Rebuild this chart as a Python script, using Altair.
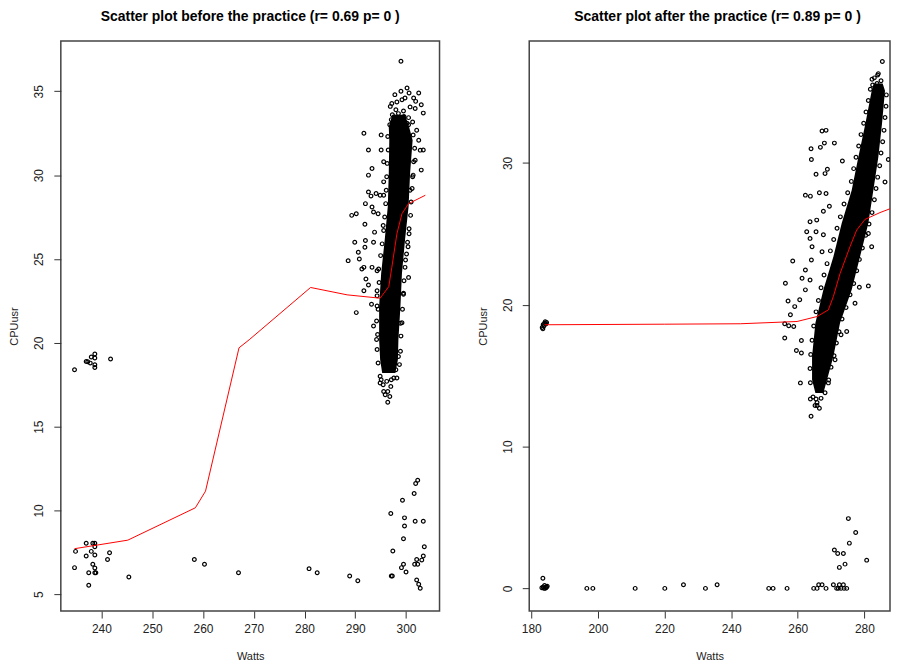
import altair as alt
import pandas as pd

FONT = "Liberation Sans"

# ---------------- Left panel: before the practice ----------------
L_title = "Scatter plot before the practice (r= 0.69 p= 0 )"
L_xticks = [240, 250, 260, 270, 280, 290, 300]
L_yticks = [5, 10, 15, 20, 25, 30, 35]

L_W = [234.7, 237.0, 237.3, 238.0, 238.7, 238.7, 237.8, 238.7, 238.7, 241.8,
       237.0, 238.3, 238.7, 238.7, 234.9, 238.0, 241.6, 237.0, 238.7, 241.2,
       234.7, 238.3, 238.7, 237.5, 238.7, 238.9, 237.5, 245.4, 258.3, 260.3,
       267.0, 280.9, 282.5, 288.9, 290.5, 297.1, 297.3,
       302.3, 301.9, 301.6, 299.3, 297.0, 299.7, 301.8, 303.4, 299.7, 299.5,
       303.6, 297.4, 303.4, 302.1, 303.1, 301.7, 302.3, 299.5, 299.1, 300.0,
       302.1, 302.5, 302.8,
       299.0, 300.2, 302.5, 301.5, 303.0, 303.4, 291.7, 295.1, 292.6, 295.1,
       303.4, 295.6, 293.3, 292.6, 303.0, 295.6, 292.6, 293.1, 294.1, 294.9,
       295.6, 292.0, 293.3, 293.6, 294.5, 290.2, 291.9, 295.5, 293.8, 300.6,
       292.0, 289.9, 293.6, 291.9, 290.6, 290.8, 288.6, 291.7, 291.3, 293.3,
       294.3, 300.5, 292.1, 292.6, 291.7, 294.3, 293.2, 290.2, 294.3, 293.6,
       294.2, 294.9, 295.6, 296.4, 296.4, 295.1, 297.1, 289.3,
       297.2, 298.2, 299.2, 299.8, 300.8, 301.8, 299.5, 298.5, 297.7, 297.1,
       300.5, 301.3, 302.1, 302.5, 302.8, 301.8, 301.3, 300.8, 300.4, 299.9,
       299.5, 298.9, 298.5, 298.0,
       # points along the edges of the dense cloud
       294.9, 294.5, 294.3, 294.4, 294.2, 294.5, 294.3, 294.7, 294.6, 295.0,
       295.3, 295.6, 295.8, 296.0, 296.1, 296.2, 296.3, 296.5, 296.4, 296.8,
       298.2, 298.7, 298.9, 299.0, 299.2, 299.3, 299.5, 299.6, 299.8, 300.1,
       300.3, 300.6, 300.9, 301.0, 301.2, 301.4, 301.5, 301.7, 301.4, 300.5,
       297.3, 298.0, 298.8, 299.6, 300.2, 297.8, 299.0, 300.6, 301.9, 296.9,
       295.5, 296.2, 297.0, 297.6, 295.9, 296.8]
L_C = [18.39, 18.89, 18.87, 19.15, 19.33, 19.09, 18.79, 18.69, 18.53, 19.03,
       8.04, 8.04, 8.04, 7.84, 7.56, 7.56, 7.48, 7.28, 7.34, 7.08,
       6.59, 6.79, 6.57, 6.29, 6.29, 6.29, 5.54, 6.03, 7.08, 6.79,
       6.29, 6.53, 6.29, 6.09, 5.81, 6.09, 6.09,
       11.80, 11.61, 11.01, 10.61, 9.82, 9.56, 9.36, 9.36, 9.07, 8.31,
       7.84, 7.58, 7.28, 7.08, 7.04, 6.79, 6.79, 6.79, 6.59, 6.33,
       5.85, 5.60, 5.36,
       36.79, 35.2, 34.9, 34.6, 34.2, 33.7, 32.5, 32.4, 31.5, 31.5,
       31.5, 30.8, 30.4, 30.0, 30.3, 29.6, 29.0, 28.75, 28.9, 28.8,
       28.8, 28.3, 28.1, 27.8, 27.7, 27.7, 27.07, 27.0, 26.6, 26.5,
       26.1, 26.0, 26.0, 25.7, 25.4, 25.0, 24.9, 24.5, 24.4, 24.5,
       24.3, 23.9, 23.8, 23.45, 23.1, 23.1, 22.3, 21.8, 22.2, 21.0,
       20.2, 17.6, 17.1, 17.1, 16.45, 17.8, 17.8, 27.6,
       34.27, 34.36, 34.5, 34.6, 34.07, 33.97, 33.83, 33.67, 33.47, 33.31,
       33.43, 33.17, 32.68, 32.08, 31.49, 30.89, 29.9, 29.1, 25.73, 24.94,
       22.96, 21.17, 19.18, 18.39,
       18.0, 18.8, 19.6, 20.5, 21.3, 22.0, 22.8, 23.6, 24.4, 25.2,
       25.9, 26.7, 27.5, 28.3, 29.1, 29.9, 30.7, 31.5, 32.3, 33.0,
       17.9, 18.7, 19.5, 20.4, 21.2, 22.0, 22.9, 23.7, 24.5, 25.3,
       26.0, 26.8, 27.6, 28.4, 29.2, 30.0, 30.8, 31.6, 32.4, 33.0,
       33.6, 33.9, 33.3, 33.5, 33.1, 34.8, 35.0, 34.9, 34.4, 34.1,
       17.5, 17.7, 17.4, 17.9, 16.9, 16.8]

# dense core of the point cloud (left / right edge at each CPUusr level)
L_core_C = [18.20, 18.99, 20.18, 22.16, 24.15, 26.13, 28.11, 30.10, 32.08, 32.88, 33.6]
L_core_lo = [295.3, 294.9, 294.7, 294.7, 295.1, 295.8, 296.4, 296.6, 296.7, 296.6, 297.3]
L_core_hi = [297.9, 298.4, 298.5, 298.9, 299.2, 299.8, 300.5, 300.8, 301.3, 300.6, 299.8]

# smoothed fit
L_fit_W = [234.7, 245.2, 258.5, 260.5, 267.1, 269.1, 281.2, 288.4, 294.9, 296.6,
           297.2, 298.2, 299.2, 300.5, 303.8]
L_fit_C = [7.72, 8.23, 10.16, 11.15, 19.7, 20.18, 23.3, 22.86, 22.66, 23.35,
           24.5, 26.5, 27.7, 28.3, 28.8]

# ---------------- Right panel: after the practice ----------------
R_title = "Scatter plot after the practice (r= 0.89 p= 0 )"
R_xticks = [180, 200, 220, 240, 260, 280]
R_yticks = [0, 10, 20, 30]

R_W = [183.3, 183.6, 184.0, 184.2, 183.8, 184.4, 183.5, 184.6,
       183.2, 183.6, 184.0, 184.4, 184.8, 183.8, 184.2, 184.6, 183.5,
       196.7, 198.5, 211.2, 220.1, 225.7, 232.3, 235.8, 251.3, 252.6, 256.8,
       264.8, 265.8, 266.3, 267.3, 268.5, 270.7, 271.7, 272.5, 273.7, 272.2,
       273.0, 273.9, 274.7, 272.5, 274.2, 280.7, 275.2, 277.4, 275.5, 271.0,
       272.0, 273.7,
       285.4, 284.2, 282.5, 267.3, 268.5, 271.0, 264.0, 266.8, 268.0, 264.1,
       273.4, 268.9, 265.5, 268.2, 287.2, 288.5, 286.2, 262.3, 263.8, 266.5,
       268.5, 269.5, 267.7, 265.7, 263.7, 262.7, 265.5, 267.7, 263.7, 264.3,
       267.3, 258.5, 264.1, 262.3, 261.3, 263.7, 256.3, 262.3, 260.6, 257.1,
       259.1, 257.8, 256.1, 257.3, 258.8, 256.1, 261.1, 259.6, 261.1, 281.2,
       278.5, 277.2, 274.7, 281.2, 282.2, 260.8, 263.8, 265.5, 265.8, 264.0,
       269.2, 271.2, 273.0,
       # points along the edges of the dense cloud
       264.6, 263.8, 263.7, 263.9, 264.3, 264.8, 265.5, 266.2, 267.0, 267.9,
       268.8, 269.8, 270.8, 271.8, 272.8, 273.9, 275.0, 276.1, 276.8, 277.5,
       278.3, 279.0, 279.8, 280.5, 281.2, 281.8, 282.3,
       268.2, 269.3, 270.0, 270.9, 271.6, 272.4, 273.3, 274.5, 275.7, 276.8,
       277.7, 278.5, 279.4, 280.4, 281.4, 282.3, 283.0, 283.5, 284.0, 284.6,
       285.0, 285.5, 285.9, 286.2, 286.5, 286.6,
       283.0, 284.0, 285.0, 283.8, 265.8, 266.5, 265.2, 267.0]
R_C = [18.4, 18.6, 18.7, 18.8, 18.5, 18.65, 18.3, 18.75,
       0.05, 0.1, 0.2, 0.05, 0.15, 0.0, 0.0, 0.1, 0.72,
       0, 0, 0, 0, 0.25, 0, 0.25, 0, 0, 0,
       0, 0, 0.25, 0.25, 0, 0.25, 0, 0.25, 0.25, 0,
       0, 0, 0, 1.48, 1.71, 1.99, 4.92, 3.94, 3.19, 2.71,
       2.46, 2.46,
       37.15, 36.3, 35.5, 32.25, 32.3, 31.4, 31.0, 31.1, 31.4, 30.24,
       30.14, 29.56, 29.2, 29.25, 30.24, 27.85, 28.66, 27.73, 27.66, 27.9,
       27.85, 26.95, 26.6, 25.97, 25.85, 25.15, 25.15, 24.94, 24.68, 24.09,
       23.74, 23.09, 23.16, 22.45, 21.87, 21.75, 21.52, 21.05, 20.35, 20.27,
       19.87, 19.29, 18.66, 18.52, 18.47, 17.65, 17.48, 16.78, 16.6, 21.33,
       21.24, 20.11, 18.12, 25.03, 24.09, 14.49, 13.36, 13.36, 12.89, 12.14,
       14.49, 16.12, 17.88,
       13.5, 14.5, 15.5, 16.5, 17.5, 18.5, 19.5, 20.3, 21.2, 22.1,
       22.9, 23.8, 24.6, 25.4, 26.2, 27.1, 27.9, 28.7, 29.6, 30.4,
       31.2, 32.0, 32.8, 33.6, 34.4, 35.2, 35.9,
       13.8, 14.7, 15.6, 16.4, 17.3, 18.1, 19.0, 19.8, 20.7, 21.5,
       22.4, 23.2, 24.0, 24.9, 25.7, 26.5, 27.4, 28.2, 29.0, 29.8,
       30.7, 31.5, 32.3, 33.2, 34.0, 34.8,
       36.0, 36.2, 35.8, 35.6, 13.1, 12.7, 12.9, 13.4]

R_core_C = [13.78, 14.72, 16.36, 18.71, 21.05, 23.39, 25.74, 28.08, 30.42, 32.76, 35.1, 35.6]
R_core_lo = [265.3, 264.3, 264.3, 265.3, 267.7, 270.7, 273.2, 276.2, 278.2, 280.3, 282.2, 282.8]
R_core_hi = [267.7, 268.8, 270.7, 272.7, 276.2, 278.7, 281.2, 282.7, 284.2, 285.3, 286.2, 285.5]

R_fit_W = [184.0, 220.0, 242.8, 259.8, 265.8, 269.2, 270.7, 272.7, 275.7, 277.7,
           280.2, 284.7, 288.7, 289.8]
R_fit_C = [18.59, 18.63, 18.66, 18.82, 19.17, 19.64, 20.58, 22.2, 24.1, 25.27,
           26.02, 26.5, 26.86, 26.92]


def panel(title, dx, sc_w, sc_c, core_c, core_lo, core_hi, fit_w, fit_c,
          xdom, ydom, xticks, yticks, width, height):
    sc = pd.DataFrame({"Watts": sc_w, "CPUusr": sc_c})
    core = pd.DataFrame({"CPUusr": core_c, "lo": core_lo, "hi": core_hi})
    fit = pd.DataFrame({"Watts": fit_w, "CPUusr": fit_c})
    xs = alt.Scale(domain=xdom, nice=False, zero=False)
    ys = alt.Scale(domain=ydom, nice=False, zero=False)
    common = dict(grid=False, domain=False, tickSize=7, tickColor="#333",
                  tickWidth=1, labelFont=FONT, labelFontSize=12,
                  labelColor="#222", titleFont=FONT, titleFontSize=11,
                  titleFontWeight="normal", titleColor="#222",
                  labelFlush=False, labelOverlap=False)
    xax = alt.Axis(values=xticks, title="Watts", labelPadding=6,
                   titlePadding=16, **common)
    yax = alt.Axis(values=yticks, title="CPUusr", labelAngle=270,
                   labelAlign="center", labelBaseline="bottom",
                   labelPadding=8, titlePadding=13, **common)
    area = alt.Chart(core).mark_area(color="black", orient="horizontal",
                                     opacity=1, clip=True).encode(
        y=alt.Y("CPUusr:Q", scale=ys, axis=yax, sort=None),
        x=alt.X("lo:Q", scale=xs, axis=xax),
        x2="hi:Q",
    )
    pts = alt.Chart(sc).mark_point(shape="circle", filled=False,
                                   color="black", size=14, strokeWidth=1.2,
                                   opacity=1, clip=True).encode(
        x=alt.X("Watts:Q", scale=xs),
        y=alt.Y("CPUusr:Q", scale=ys),
    )
    line = alt.Chart(fit).mark_line(color="#ff0000", strokeWidth=1,
                                    clip=True).encode(
        x=alt.X("Watts:Q", scale=xs, sort=None),
        y=alt.Y("CPUusr:Q", scale=ys),
    )
    return alt.layer(area, pts, line).properties(
        width=width, height=height,
        title=alt.TitleParams(title, font=FONT, fontSize=14, fontWeight="bold",
                              color="black", anchor="middle", offset=17, dx=dx),
    )


left = panel(L_title, 0, L_W, L_C, L_core_C, L_core_lo, L_core_hi,
             L_fit_W, L_fit_C, [232.0, 306.6], [4.0, 38.0],
             L_xticks, L_yticks, 380, 572)
right = panel(R_title, 8, R_W, R_C, R_core_C, R_core_lo, R_core_hi,
              R_fit_W, R_fit_C, [179.4, 287.7], [-1.6, 38.6],
              R_xticks, R_yticks, 362, 572)

chart = alt.hconcat(left, right, spacing=36).properties(
    padding=0, background="white"
).configure_view(stroke="#444", strokeWidth=1.5)

chart.save("out.html", embed_options={"renderer": "svg", "actions": False})
